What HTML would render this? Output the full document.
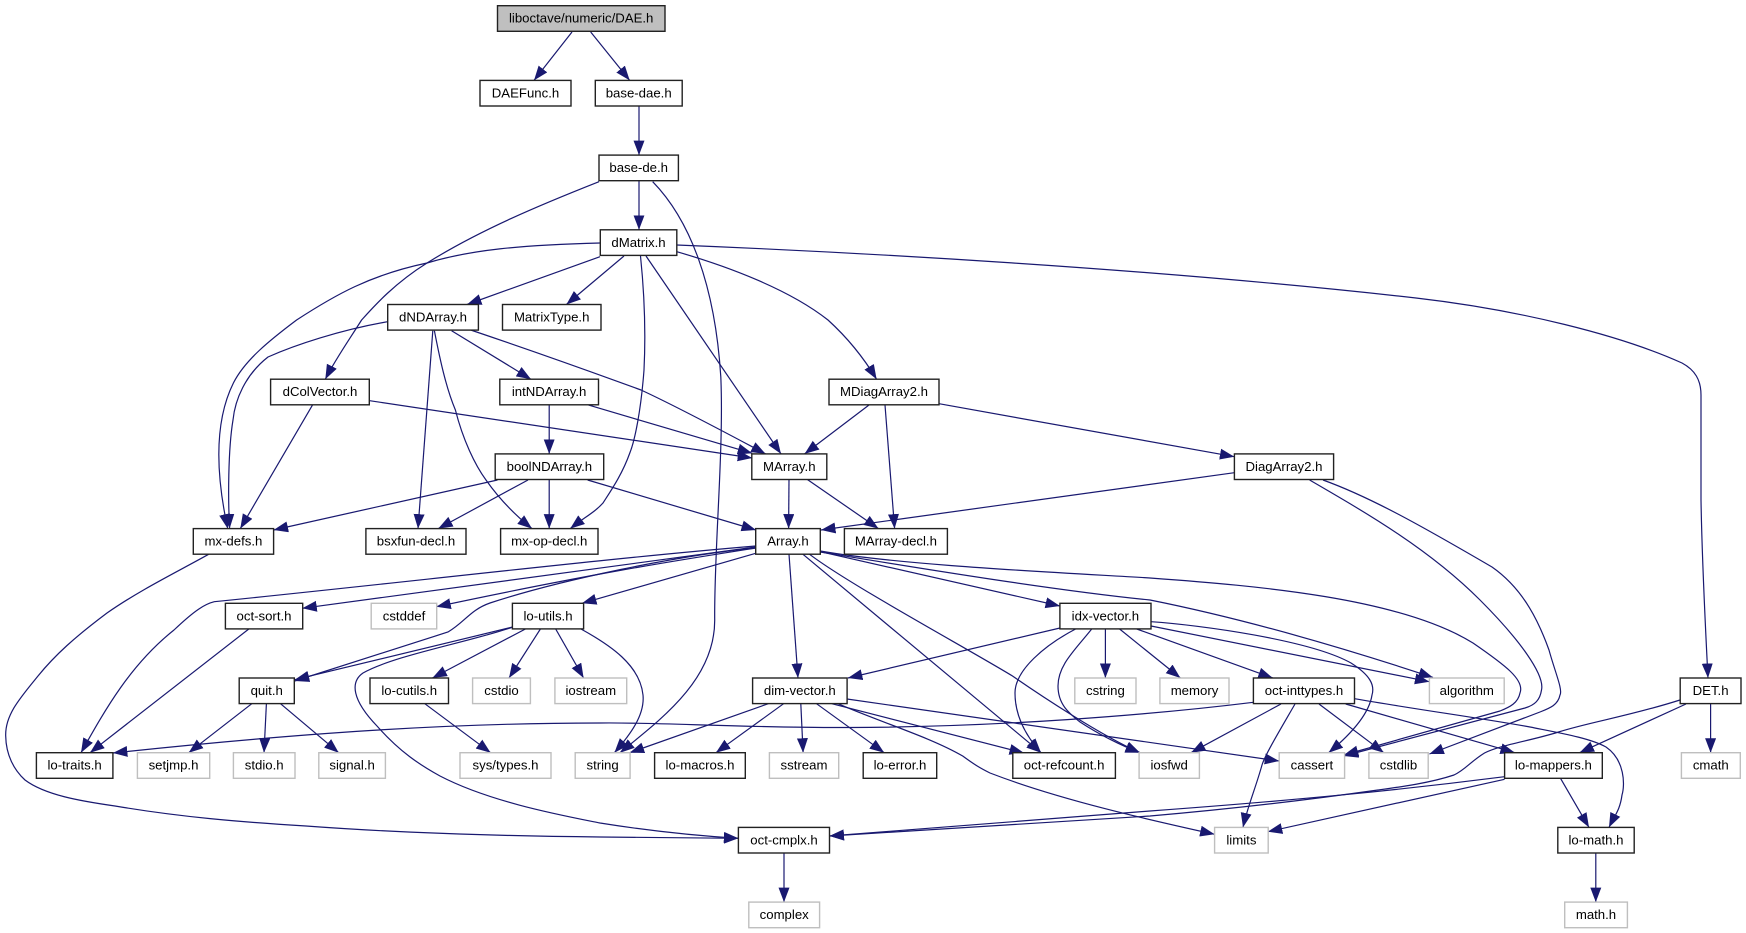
<!DOCTYPE html>
<html><head><meta charset="utf-8"><title>DAE.h include graph</title>
<style>html,body{margin:0;padding:0;background:#fff;width:1746px;height:933px;overflow:hidden}
svg{display:block;filter:blur(0.3px)}
text{font-family:"Liberation Sans",sans-serif;font-size:13.2px;text-anchor:middle;fill:#000}
.n rect{fill:#fff;stroke:#222;stroke-width:1.4}
.g rect{fill:#fff;stroke:#bfbfbf;stroke-width:1.4}
.r rect{fill:#bfbfbf;stroke:#222;stroke-width:1.4}
</style></head><body>
<svg width="1746" height="933" viewBox="0 0 1746 933" xmlns="http://www.w3.org/2000/svg">
<defs><marker id="a" markerUnits="userSpaceOnUse" markerWidth="15" markerHeight="12" refX="14.5" refY="5.5" orient="auto"><path d="M0,0L14.5,5.5L0,11z" fill="#191970"/></marker></defs>
<g fill="none" stroke="#191970" stroke-width="1.2" marker-end="url(#a)">
<path d="M572,32L534,80.4"/>
<path d="M590.7,32L629.7,80.4"/>
<path d="M639,106L639,155.1"/>
<path d="M639,181L639,229.8"/>
<path d="M599,181.7C540,205 480,230 427,263C395,283 375,305 361.6,320C349,340 335,360 325.3,379.2"/>
<path d="M652.7,181.7C690,220 715,285 720.8,376.7C724,450 714,550 714.7,620C715,680 660,720 620,752.7"/>
<path d="M600.3,243C520,245 470,250 427,263C370,275 335,295 296.6,320C270,340 245,360 233.4,383C215,420 215,470 227.7,528.6"/>
<path d="M600,256.7L467,304.5"/>
<path d="M624,256L566.4,304.5"/>
<path d="M640.5,256C644,290 646,330 644,370C641,410 635,440 629.8,453C622,475 610,492 603,503C595,512 585,517 570.2,528.6"/>
<path d="M646,256L781,453.9"/>
<path d="M676.8,251.7C730,267 790,290 828,320C850,340 865,360 876.6,379.2"/>
<path d="M676.8,245C850,252 1150,268 1416,298C1520,310 1620,335 1682,363C1695,370 1701,380 1701,395L1701,500C1702,560 1705,620 1708,678"/>
<path d="M387.7,321.7C340,330 295,345 268,357C245,375 235,400 233,420C228,450 228,500 229.6,528.6"/>
<path d="M432.8,330.7L418,528.6"/>
<path d="M434.4,330.7C441,365 447,390 455.4,410C463,440 475,465 486,480C500,500 515,515 532,528.6"/>
<path d="M451.6,330.7L531,379.2"/>
<path d="M470.7,330C530,350 600,375 641,390C680,408 730,435 765.6,453.9"/>
<path d="M312.7,404.7L240.3,528.6"/>
<path d="M369.7,400.7L752.2,458"/>
<path d="M549.2,404.7L549.2,453.9"/>
<path d="M587.4,404.7L752.2,453.3"/>
<path d="M497.5,480L273.6,530"/>
<path d="M528,480L438.2,528.6"/>
<path d="M549.2,480L549.2,528.6"/>
<path d="M587.6,480L756,530"/>
<path d="M869,405L804.6,453.9"/>
<path d="M885,405L894.6,528.6"/>
<path d="M939,403.7L1234.4,456.7"/>
<path d="M1234.4,472.7L821,530"/>
<path d="M1309.6,480C1370,515 1430,550 1480,600C1520,640 1545,675 1541.5,690C1540,700 1535,705 1525,708L1343.8,756"/>
<path d="M1323,480C1370,497 1420,525 1492,567C1525,590 1540,625 1549,650C1555,672 1563,690 1560,695C1558,705 1550,708 1540,712L1429.4,754"/>
<path d="M789,479.3L788.6,528.6"/>
<path d="M807,479.3L878.5,528.6"/>
<path d="M208.6,554.3C175,573 140,590 107,613C75,637 55,655 38,676C20,698 5,715 5.7,736C6,755 14,770 25,780C45,795 80,801 115,806C180,817 240,822 306,826C400,833 500,836 600,837L738.4,838.3"/>
<path d="M755.7,547L302.3,608.3"/>
<path d="M755.7,548C680,560 600,572 436.3,606.7"/>
<path d="M755.7,546C600,559 400,583 214.3,601.7C205,604 195,610 174,630C130,665 105,710 81,752.7"/>
<path d="M755.7,548C680,555 560,580 490,603C470,610 465,622 448,632L294.7,681"/>
<path d="M755.7,553.3L582,603.3"/>
<path d="M789,554.3L798,678"/>
<path d="M803,554.3L1041,752.7"/>
<path d="M809.6,554.3C850,585 970,650 1012.5,676C1040,695 1100,735 1140,752.7"/>
<path d="M820.3,551.7L1060,606"/>
<path d="M820.3,552C900,565 1050,590 1150,600C1250,620 1350,650 1433,677.5"/>
<path d="M820.3,551C900,565 1050,572 1150,578C1260,586 1400,598 1473,643C1505,665 1525,680 1520,693C1518,703 1510,707 1500,711L1343.8,755"/>
<path d="M248.8,629L90,752.7"/>
<path d="M512.8,627L294.7,679.7"/>
<path d="M512.8,627C470,642 395,655 363,673C350,682 352,700 377,726C400,752 420,765 440,776C490,802 560,815 600,823C650,831 700,836 738.4,838.3"/>
<path d="M525.4,629L432.4,678"/>
<path d="M540.4,629L509,678"/>
<path d="M555.7,629L583.6,678"/>
<path d="M581,629C610,645 640,665 643,695C645,715 630,735 614.4,752.7"/>
<path d="M251.8,703.7L188.7,752.7"/>
<path d="M266.4,703.7L264,752.7"/>
<path d="M280.5,703.7L338.7,752.7"/>
<path d="M424.8,703.7L490.6,752.7"/>
<path d="M768.3,703.7L629.7,752.7"/>
<path d="M783.6,703.7L715.9,752.7"/>
<path d="M800.8,703.7L803.1,752.7"/>
<path d="M816.5,703.7L884.2,752.7"/>
<path d="M831.8,703.7L1024,753"/>
<path d="M847,699L1279.2,761"/>
<path d="M838,703.7C880,722 930,737 962.7,756C975,765 980,768 990,773C1060,800 1150,820 1214.6,834.3"/>
<path d="M1060,628L847.9,678"/>
<path d="M1075.6,629C1045,645 1015,670 1015,693C1015,715 1025,735 1041,752.7"/>
<path d="M1091.7,629C1075,650 1058,665 1058,686C1058,705 1070,714 1080,722C1100,735 1120,745 1140,752.7"/>
<path d="M1105.4,629L1105.4,678"/>
<path d="M1119.6,629L1180.4,678"/>
<path d="M1136.8,629L1272.8,678"/>
<path d="M1151,626L1429.4,681.7"/>
<path d="M1151,621.7C1200,625 1310,640 1351,663C1370,675 1375,685 1372,695C1369,715 1350,735 1328.6,752.7"/>
<path d="M1253.4,702.3C1150,715 1000,727 850,727.5C750,728 650,722 600,723C450,723 300,733 112.9,753"/>
<path d="M1281,704L1191,752.7"/>
<path d="M1295,704C1280,730 1265,755 1262,765C1255,790 1248,805 1243,827.4"/>
<path d="M1319,704L1383.8,752.7"/>
<path d="M1345.7,704L1514.9,752.7"/>
<path d="M1354.5,698.7C1420,710 1480,718 1530,727C1560,733 1590,738 1606,747C1625,760 1625,785 1622,795C1620,810 1615,815 1609,827.4"/>
<path d="M1680,700C1630,716 1590,722 1558.6,732C1530,741 1500,745 1484.5,753C1470,762 1465,770 1454,775C1430,783 1400,787 1378,790C1300,801 1220,810 1150,816L829.5,836"/>
<path d="M1686,704L1579.5,752.7"/>
<path d="M1710.6,704L1710.6,752.7"/>
<path d="M1504.6,776.7C1400,790 1300,800 1150,811L829.5,836"/>
<path d="M1504.6,779.3L1267.8,831.7"/>
<path d="M1560.5,778.3L1589,827.4"/>
<path d="M1595.8,853L1595.8,902.1"/>
<path d="M784,853L784,902.1"/>
</g>
<g class="r"><rect x="497.5" y="5.7" width="167.5" height="25.6"/><text x="581.2" y="22.7">liboctave/numeric/DAE.h</text></g>
<g class="n">
<rect x="480" y="80.4" width="91" height="25.6"/><text x="525.5" y="97.4">DAEFunc.h</text>
<rect x="595.3" y="80.4" width="86.9" height="25.6"/><text x="638.7" y="97.4">base-dae.h</text>
<rect x="599" y="155.1" width="79.4" height="25.6"/><text x="638.7" y="172.1">base-de.h</text>
<rect x="600.3" y="229.8" width="76.5" height="25.6"/><text x="638.5" y="246.8">dMatrix.h</text>
<rect x="387.7" y="304.5" width="90.7" height="25.6"/><text x="433" y="321.5">dNDArray.h</text>
<rect x="502.5" y="304.5" width="98.5" height="25.6"/><text x="551.7" y="321.5">MatrixType.h</text>
<rect x="270.6" y="379.2" width="98.7" height="25.6"/><text x="320" y="396.2">dColVector.h</text>
<rect x="499.8" y="379.2" width="98.7" height="25.6"/><text x="549.1" y="396.2">intNDArray.h</text>
<rect x="829" y="379.2" width="110" height="25.6"/><text x="884" y="396.2">MDiagArray2.h</text>
<rect x="1234.4" y="453.9" width="99.2" height="25.6"/><text x="1284" y="470.9">DiagArray2.h</text>
<rect x="495.2" y="453.9" width="108.5" height="25.6"/><text x="549.4" y="470.9">boolNDArray.h</text>
<rect x="751.8" y="453.9" width="75" height="25.6"/><text x="789.3" y="470.9">MArray.h</text>
<rect x="193.3" y="528.6" width="80.3" height="25.6"/><text x="233.4" y="545.6">mx-defs.h</text>
<rect x="365.9" y="528.6" width="100.1" height="25.6"/><text x="416" y="545.6">bsxfun-decl.h</text>
<rect x="500.6" y="528.6" width="97.4" height="25.6"/><text x="549.3" y="545.6">mx-op-decl.h</text>
<rect x="755.7" y="528.6" width="64.6" height="25.6"/><text x="788" y="545.6">Array.h</text>
<rect x="844.4" y="528.6" width="103" height="25.6"/><text x="895.9" y="545.6">MArray-decl.h</text>
<rect x="225.4" y="603.3" width="77.3" height="25.6"/><text x="264" y="620.3">oct-sort.h</text>
<rect x="512.4" y="603.3" width="71.2" height="25.6"/><text x="548" y="620.3">lo-utils.h</text>
<rect x="1059.9" y="603.3" width="91.1" height="25.6"/><text x="1105.4" y="620.3">idx-vector.h</text>
<rect x="239.2" y="678" width="55.1" height="25.6"/><text x="266.7" y="695">quit.h</text>
<rect x="370" y="678" width="78.5" height="25.6"/><text x="409.2" y="695">lo-cutils.h</text>
<rect x="752.6" y="678" width="94.5" height="25.6"/><text x="799.8" y="695">dim-vector.h</text>
<rect x="1253.4" y="678" width="101.1" height="25.6"/><text x="1304" y="695">oct-inttypes.h</text>
<rect x="1680.2" y="678" width="60.8" height="25.6"/><text x="1710.6" y="695">DET.h</text>
<rect x="36.4" y="752.7" width="76.5" height="25.6"/><text x="74.6" y="769.7">lo-traits.h</text>
<rect x="654.6" y="752.7" width="90.7" height="25.6"/><text x="700" y="769.7">lo-macros.h</text>
<rect x="863.2" y="752.7" width="73.5" height="25.6"/><text x="900" y="769.7">lo-error.h</text>
<rect x="1012.8" y="752.7" width="102.6" height="25.6"/><text x="1064.1" y="769.7">oct-refcount.h</text>
<rect x="1504.6" y="752.7" width="97.7" height="25.6"/><text x="1553.4" y="769.7">lo-mappers.h</text>
<rect x="738.4" y="827.4" width="91.1" height="25.6"/><text x="784" y="844.4">oct-cmplx.h</text>
<rect x="1557.8" y="827.4" width="76.4" height="25.6"/><text x="1596" y="844.4">lo-math.h</text>
</g>
<g class="g">
<rect x="371.2" y="603.3" width="65.5" height="25.6"/><text x="404" y="620.3">cstddef</text>
<rect x="472.6" y="678" width="57.8" height="25.6"/><text x="501.5" y="695">cstdio</text>
<rect x="554.9" y="678" width="71.8" height="25.6"/><text x="590.8" y="695">iostream</text>
<rect x="1074.8" y="678" width="61.2" height="25.6"/><text x="1105.4" y="695">cstring</text>
<rect x="1159.9" y="678" width="69.1" height="25.6"/><text x="1194.5" y="695">memory</text>
<rect x="1429.4" y="678" width="74.8" height="25.6"/><text x="1466.8" y="695">algorithm</text>
<rect x="137.4" y="752.7" width="72.3" height="25.6"/><text x="173.5" y="769.7">setjmp.h</text>
<rect x="233.4" y="752.7" width="61.6" height="25.6"/><text x="264.2" y="769.7">stdio.h</text>
<rect x="318.8" y="752.7" width="66.6" height="25.6"/><text x="352.1" y="769.7">signal.h</text>
<rect x="460" y="752.7" width="91" height="25.6"/><text x="505.5" y="769.7">sys/types.h</text>
<rect x="575.2" y="752.7" width="54.9" height="25.6"/><text x="602.6" y="769.7">string</text>
<rect x="769.4" y="752.7" width="69.3" height="25.6"/><text x="804" y="769.7">sstream</text>
<rect x="1139.1" y="752.7" width="60.3" height="25.6"/><text x="1169.2" y="769.7">iosfwd</text>
<rect x="1279.2" y="752.7" width="65.4" height="25.6"/><text x="1311.9" y="769.7">cassert</text>
<rect x="1368.9" y="752.7" width="59.3" height="25.6"/><text x="1398.5" y="769.7">cstdlib</text>
<rect x="1681.4" y="752.7" width="58.9" height="25.6"/><text x="1710.8" y="769.7">cmath</text>
<rect x="1214.6" y="827.4" width="53.6" height="25.6"/><text x="1241.4" y="844.4">limits</text>
<rect x="748.8" y="902.1" width="70.8" height="25.6"/><text x="784.2" y="919.1">complex</text>
<rect x="1564.7" y="902.1" width="62.7" height="25.6"/><text x="1596" y="919.1">math.h</text>
</g>
</svg>
</body></html>
